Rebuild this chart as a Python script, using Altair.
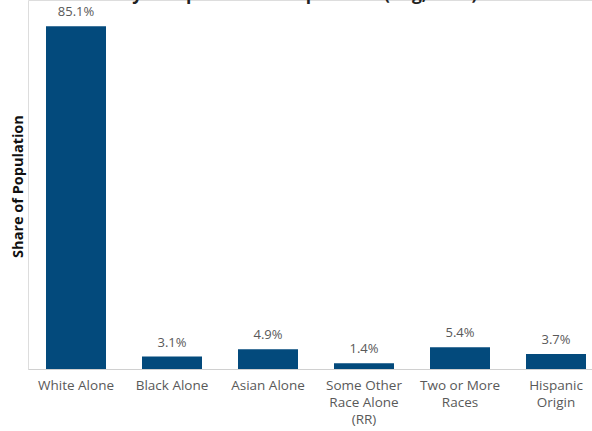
import altair as alt
import pandas as pd

categories = ["White Alone", "Black Alone", "Asian Alone",
              "Some Other\nRace Alone\n(RR)", "Two or More\nRaces", "Hispanic\nOrigin"]
values = [85.1, 3.1, 4.9, 1.4, 5.4, 3.7]
labels = ["85.1%", "3.1%", "4.9%", "1.4%", "5.4%", "3.7%"]
title_text = "Ethnicity Composition of Population (Avg, 2019)"

df = pd.DataFrame({"cat": categories, "val": values, "lab": labels})

FONT = "Open Sans"
x = alt.X("cat:N", sort=categories, title=None,
          scale=alt.Scale(paddingInner=0.375, paddingOuter=0.1875, range=[0, 576]),
          axis=alt.Axis(labelAngle=0, labelColor="#595959", labelFont=FONT,
                        labelFontSize=13.5, ticks=False, domainColor="#d0d0d0",
                        labelPadding=9, labelLineHeight=17, labelLimit=200,
                        labelExpr="split(datum.label, '\\n')"))
y = alt.Y("val:Q", scale=alt.Scale(domain=[0, 91.6], nice=False, zero=True),
          axis=alt.Axis(title="Share of Population", labels=False, ticks=False,
                        domain=False, grid=False, titleFont=FONT, titleFontSize=14.5,
                        titleFontWeight="bold", titleColor="#111111", titleX=-10,
                        titleY=186, titleAngle=-90, titleBaseline="middle",
                        titleAlign="center"))

bars = alt.Chart(df).mark_bar(color="#034a7c").encode(x=x, y=y)
text = alt.Chart(df).mark_text(baseline="bottom", dy=-7, font=FONT, fontSize=13,
                               color="#595959").encode(
    x=alt.X("cat:N", sort=categories), y="val:Q", text="lab:N")
title = alt.Chart(pd.DataFrame({"t": [title_text]})).mark_text(
    font=FONT, fontSize=17.5, fontWeight="bold", color="#222222", baseline="alphabetic",
    align="center").encode(x=alt.value(243), y=alt.value(0), text="t:N")

chart = alt.layer(bars, text, title).properties(
    width=564, height=369,
    autosize=alt.AutoSizeParams(type="none"),
    padding={"left": 28, "top": 0, "right": 0, "bottom": 62},
).configure_view(stroke=None).configure(background="white")

chart.save("out.html", embed_options={"renderer": "svg", "actions": False})
